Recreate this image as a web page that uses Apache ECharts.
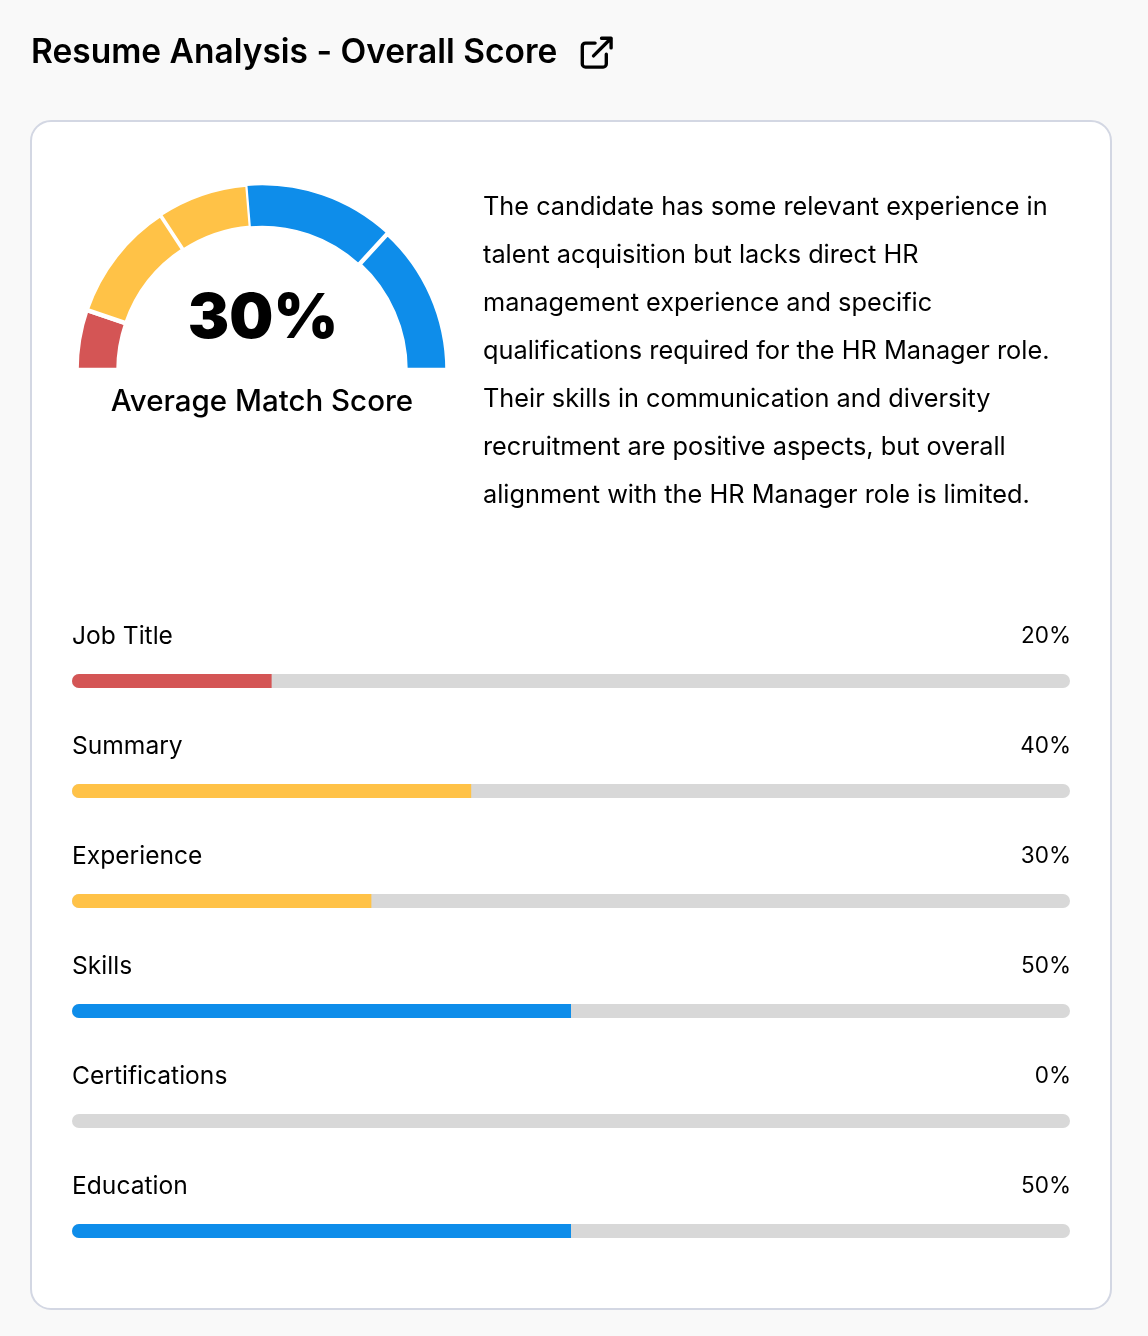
<!DOCTYPE html>
<html><head><meta charset="utf-8">
<style>html,body{margin:0;padding:0;background:#f9f9f9}#c{width:1148px;height:1336px}</style>
<script src="https://cdn.jsdelivr.net/npm/echarts@6/dist/echarts.min.js"></script>
</head><body><div id="c"></div>
<script>
const categories = ['Job Title','Summary','Experience','Skills','Certifications','Education'];
const scores = [20,40,30,50,0,50];
const overallScore = '30%';
const gaugeCaption = 'Average Match Score';
const pageTitle = 'Resume Analysis - Overall Score';
const descriptionLines = [
 'The candidate has some relevant experience in',
 'talent acquisition but lacks direct HR',
 'management experience and specific',
 'qualifications required for the HR Manager role.',
 'Their skills in communication and diversity',
 'recruitment are positive aspects, but overall',
 'alignment with the HR Manager role is limited.'
];
const F = 'Inter';
const colorFor = v => v <= 20 ? '#D45555' : v <= 40 ? '#FFC247' : '#0E8DEA';
const ringBorder = n => n === 'Skills' ? 1.5 : n === 'Certifications' ? 0 : n === 'Experience' ? 3 : 4.5;
echarts.graphic.registerShape('extLink', echarts.graphic.extendPath(
 'M18 13v6a2 2 0 0 1-2 2H5a2 2 0 0 1-2-2V8a2 2 0 0 1 2-2h6M15 3h6v6M10 14 21 3', {}));
const chart = echarts.init(document.getElementById('c'), null, {renderer:'canvas'});
const txt = (text,x,y,size,weight,align) => ({type:'text',z:10,x,y,style:{text,fill:'#000',font:`${weight} ${size}px ${F}`,textAlign:align||'left',textVerticalAlign:'middle'}});
chart.setOption({
 animation:false,
 backgroundColor:'#f9f9f9',
 graphic:{elements:[
  {type:'rect',z:-10,shape:{x:31,y:121,width:1080,height:1188,r:20},style:{fill:'#fff',stroke:'#D3D7E3',lineWidth:2}},
  txt(pageTitle,31,52.5,33.5,600),
  {type:'extLink',z:10,x:577.5,y:33.5,scaleX:1.6,scaleY:1.6,
   style:{fill:null,stroke:'#000',lineWidth:2.1,lineCap:'round',lineJoin:'round'}},
  txt(overallScore,263,319,62,900,'center'),
  txt(gaugeCaption,262,402,29.5,500,'center'),
  ...descriptionLines.map((l,i)=>txt(l,483,207+48*i,25.3,400))
 ]},
 grid:{left:72,top:626,width:998,height:660,containLabel:false},
 xAxis:{type:'value',min:0,max:100,show:false},
 yAxis:{type:'category',data:categories,inverse:true,show:false},
 series:[
  {type:'pie',silent:true,center:[262,370],radius:[143.5,185.5],startAngle:180,endAngle:0,
   label:{show:false},labelLine:{show:false},
   data:scores.map((v,i)=>({name:categories[i],value:v,itemStyle:{color:colorFor(v),borderColor:'#fff',borderWidth:ringBorder(categories[i])}}))},
  {type:'bar',barWidth:14,barGap:'-100%',silent:true,
   data:scores.map(()=>100),
   itemStyle:{color:'#D8D8D8',borderRadius:7},
   label:{show:true,position:'insideRight',distance:0,offset:[1,-45],color:'#000',fontFamily:F,fontSize:22.5,fontWeight:400,
     formatter:p=>scores[p.dataIndex]+'%'}},
  {type:'bar',barWidth:14,barGap:'-100%',silent:true,
   data:scores.map(v=>({value:v,itemStyle:{color:colorFor(v)}})),
   itemStyle:{borderRadius:[7,0,0,7]},
   label:{show:false}},
  {type:'bar',barWidth:14,barGap:'-100%',silent:true,
   data:scores.map(()=>100),
   itemStyle:{color:'rgba(0,0,0,0)'},
   label:{show:true,position:'insideLeft',distance:0,offset:[0,-44.5],color:'#000',fontFamily:F,fontSize:24.6,
     formatter:p=>categories[p.dataIndex]}}
 ]
});
</script></body></html>
